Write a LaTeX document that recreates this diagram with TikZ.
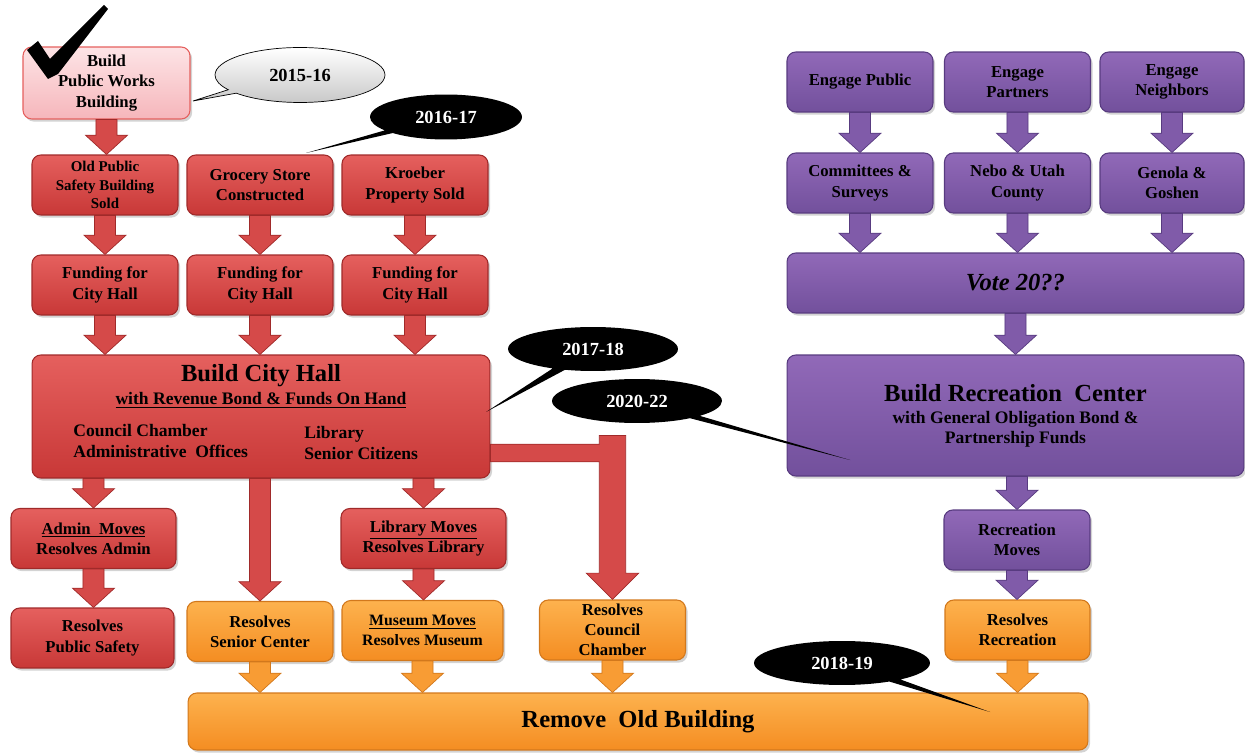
\documentclass[tikz,border=0pt]{standalone}
\usepackage[svgnames]{xcolor}
\usepackage{fontspec}
\setmainfont{Liberation Serif}
\usepackage{tikz}
\usetikzlibrary{
  calc,
  shapes.callouts,
  shadows}

\definecolor{redtop}{HTML}{E5605E}
\definecolor{redbot}{HTML}{C83837}
\definecolor{redline}{HTML}{A02A2A}
\definecolor{pinktop}{HTML}{FDE4E6}
\definecolor{pinkbot}{HTML}{F6B6BB}
\definecolor{oratop}{HTML}{FDB24E}
\definecolor{orabot}{HTML}{F48D22}
\definecolor{oraline}{HTML}{D2781C}
\definecolor{purtop}{HTML}{9169B8}
\definecolor{purbot}{HTML}{72509C}
\definecolor{purline}{HTML}{583B80}

\tikzset{
  box/.style={rounded corners=5pt, draw, line width=0.6pt, align=center, inner sep=1pt,
    minimum width=2.92cm, minimum height=1.2cm,
    drop shadow={opacity=0.35, shadow xshift=1.2pt, shadow yshift=-1.5pt},
    font=\fontsize{9.5}{11.5}\selectfont\bfseries},
  redbox/.style={box, draw=redline, top color=redtop, bottom color=redbot},
  pinkbox/.style={box, draw=redtop, top color=pinktop, bottom color=pinkbot},
  orabox/.style={box, draw=oraline, top color=oratop, bottom color=orabot},
  purbox/.style={box, draw=purline, top color=purtop, bottom color=purbot},
  redarrow/.style={draw=redline, fill=redbot!55!redtop, line width=0.4pt},
  oraarrow/.style={draw=oraline, fill=orabot!60!oratop, line width=0.4pt},
  purarrow/.style={draw=purline, fill=purbot!55!purtop, line width=0.4pt},
  yeartag/.style={ellipse callout, fill=black, text=white, callout pointer arc=9,
    minimum width=3.4cm, minimum height=0.88cm, inner sep=0pt,
    font=\fontsize{10.5}{12}\selectfont\bfseries}
}

\newcommand{\blockarrow}[3][redarrow]{%
  \filldraw[#1] let \p1=(#2), \p2=(#3) in
    (\x1-6pt,\y1) -- (\x1+6pt,\y1) -- (\x1+6pt,\y2+11pt) -- (\x1+12pt,\y2+11pt)
    -- (\x1,\y2) -- (\x1-12pt,\y2+11pt) -- (\x1-6pt,\y2+11pt) -- cycle;}

\begin{document}
\begin{tikzpicture}[x=0.02cm, y=-0.02cm]
\useasboundingbox (0,0) rectangle (1245,753);

\node[pinkbox, minimum width=3.34cm, minimum height=1.44cm] (pw) at (106.5,83) {Build\\Public Works\\Building};
\node[redbox, font=\fontsize{8.5}{10.5}\selectfont\bfseries] (ops) at (105,185) {Old Public\\Safety Building\\Sold};
\node[redbox] (groc) at (260,185) {Grocery Store\\Constructed};
\node[redbox] (kroe) at (415,185) {Kroeber\\Property Sold};
\foreach \i/\x in {1/105, 2/260, 3/415} {
  \node[redbox] (fund\i) at (\x,285) {Funding for\\City Hall};
}
\node[redbox, minimum width=9.16cm, minimum height=2.46cm] (cityhall) at (261,416.5) {};
\node[align=center, anchor=north, inner sep=0pt, font=\bfseries] (chtitle) at (261,364)
  {{\fontsize{14}{16}\selectfont Build City Hall}\\[1pt]
   {\fontsize{10}{12}\selectfont\underline{with Revenue Bond \& Funds On Hand}}};
\node[align=left, anchor=north west, inner sep=0pt, font=\fontsize{10}{12}\selectfont\bfseries] (chleft) at (73,424)
  {Council Chamber\\Administrative\ \ Offices};
\node[align=left, anchor=north west, inner sep=0pt, font=\fontsize{10}{12}\selectfont\bfseries] (chright) at (304,426)
  {Library\\Senior Citizens};

\node[redbox, minimum width=3.3cm] (admin) at (93.5,538.5) {\underline{Admin\ \ Moves}\\Resolves Admin};
\node[redbox, minimum width=3.3cm] (library) at (423.5,538.5) {\underline{Library Moves}\\Resolves Library};
\node[redbox, minimum width=3.26cm] (pubsafety) at (92.5,638) {Resolves\\Public Safety};
\node[orabox] (senior) at (260,631.5) {Resolves\\Senior Center};
\node[orabox, minimum width=3.22cm, font=\fontsize{9}{11.5}\selectfont\bfseries] (museum) at (422.5,630.5) {\underline{Museum Moves}\\Resolves Museum};
\node[orabox] (council) at (612.5,630) {Resolves\\Council\\Chamber};
\node[orabox, minimum width=18cm, minimum height=1.14cm, font=\fontsize{14}{16}\selectfont\bfseries] (remove) at (638,721.5) {Remove\ \ Old Building};

\node[purbox] (engpub) at (860,82) {Engage Public};
\node[purbox] (engpart) at (1017.5,82) {Engage\\Partners};
\node[purbox, minimum width=2.88cm] (engnb) at (1172,82) {Engage\\Neighbors};
\node[purbox] (comm) at (860,183) {Committees \&\\Surveys};
\node[purbox] (nebo) at (1017.5,183) {Nebo \& Utah\\County};
\node[purbox, minimum width=2.88cm] (genola) at (1172,183) {Genola \&\\Goshen};
\node[purbox, minimum width=9.14cm, font=\fontsize{14}{16}\selectfont\bfseries\itshape] (vote) at (1015.5,283) {Vote 20??};
\node[purbox, minimum width=9.14cm, minimum height=2.42cm, font=\fontsize{10}{11.5}\selectfont\bfseries] (rec) at (1015.5,415.5)
  {{\fontsize{14}{16}\selectfont Build Recreation\ \ Center}\\[1pt] with General Obligation Bond \&\\Partnership Funds};
\node[purbox] (recmoves) at (1017,540) {Recreation\\Moves};
\node[orabox, minimum width=2.9cm] (resrec) at (1017.5,630) {Resolves\\Recreation};

\blockarrow{pw.south}{ops.north}
\foreach \a/\b in {ops/fund1, groc/fund2, kroe/fund3} {
  \blockarrow{\a.south}{\b.north}
  \blockarrow{\b.south}{\b.south |- cityhall.north}
}
\foreach \b in {admin, senior, library} {
  \blockarrow{\b.north |- cityhall.south}{\b.north}
}
\blockarrow{admin.south}{pubsafety.north}
\blockarrow{library.south}{museum.north}
\coordinate (elbow) at (612.5,453);
\filldraw[redarrow] let \p1=(cityhall.east |- elbow), \p2=(council.north |- elbow), \p3=(council.north) in
  (\x1,\y1+5pt) -- (\x2-7.5pt,\y1+5pt) -- (\x2-7.5pt,\y1+10pt) -- (\x2+7.5pt,\y1+10pt)
  -- (\x2+7.5pt,\y3+15pt) -- (\x2+15pt,\y3+15pt) -- (\x2,\y3) -- (\x2-15pt,\y3+15pt)
  -- (\x2-7.5pt,\y3+15pt) -- (\x2-7.5pt,\y1-5pt) -- (\x1,\y1-5pt) -- cycle;
\foreach \b in {senior, museum, council, resrec} {
  \blockarrow[oraarrow]{\b.south}{\b.south |- remove.north}
}
\foreach \a/\b in {engpub/comm, engpart/nebo, engnb/genola} {
  \blockarrow[purarrow]{\a.south}{\b.north}
  \blockarrow[purarrow]{\b.south}{\b.south |- vote.north}
}
\blockarrow[purarrow]{vote.south -| rec.north}{rec.north}
\blockarrow[purarrow]{recmoves.north |- rec.south}{recmoves.north}
\blockarrow[purarrow]{recmoves.south}{resrec.north}

\fill[black] (27,50) -- (38,41) -- (50,59) -- (104,5) -- (108,9) -- (58,74) -- (48,79) -- cycle;

\coordinate (t1) at (193,101);
\coordinate (t2) at (306,153);
\coordinate (t3) at (486,412);
\coordinate (t4) at (850,460);
\coordinate (t5) at (990,712);
\node[yeartag, fill=none, draw=black, text=black, top color=white, bottom color=gray!45,
  minimum height=1.1cm, callout absolute pointer={(t1)}] (y1516) at (300,75) {2015-16};
\node[yeartag, minimum width=3.04cm, minimum height=0.9cm, callout absolute pointer={(t2)}] (y1617) at (446,117) {2016-17};
\node[yeartag, callout absolute pointer={(t3)}] (y1718) at (593,349) {2017-18};
\node[yeartag, callout absolute pointer={(t4)}] (y2022) at (637,401) {2020-22};
\node[yeartag, minimum width=3.52cm, callout absolute pointer={(t5)}] (y1819) at (842,663) {2018-19};
\end{tikzpicture}
\end{document}
